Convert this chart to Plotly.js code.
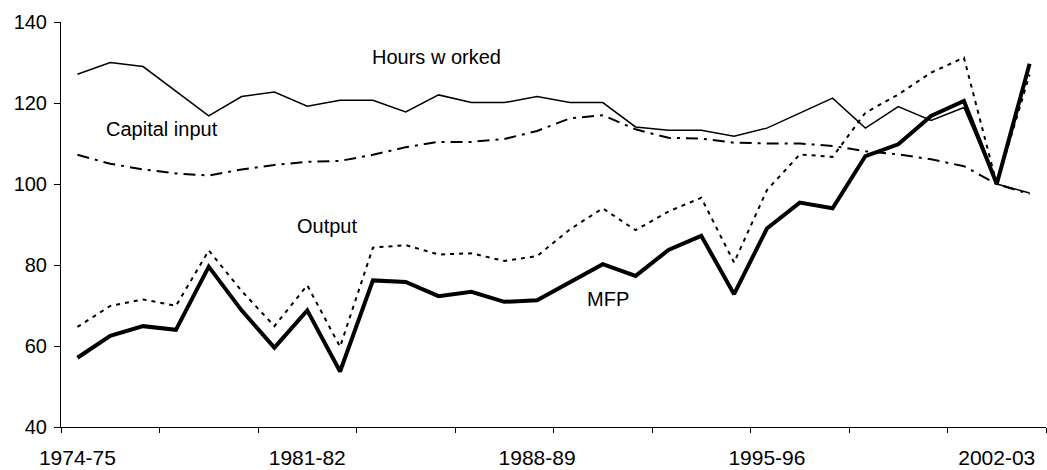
<!DOCTYPE html>
<html>
<head>
<meta charset="utf-8">
<script src="https://cdn.plot.ly/plotly-3.0.1.min.js"></script>
<style>html,body{margin:0;padding:0;background:#fff;}#chart{width:1047px;height:470px;}</style>
</head>
<body>
<div id="chart"></div>
<script>
const categories = ["1974-75","1975-76","1976-77","1977-78","1978-79","1979-80","1980-81","1981-82","1982-83","1983-84",
  "1984-85","1985-86","1986-87","1987-88","1988-89","1989-90","1990-91","1991-92","1992-93","1993-94",
  "1994-95","1995-96","1996-97","1997-98","1998-99","1999-00","2000-01","2001-02","2002-03","2003-04"];
const hoursWorked = [127.1,130.0,129.0,123.0,116.8,121.6,122.7,119.2,120.7,120.7,
  117.8,122.0,120.1,120.1,121.6,120.1,120.1,114.1,113.3,113.3,
  111.8,113.8,117.4,121.2,113.8,119.1,115.7,118.9,100.0,97.8];
const capitalInput = [107.2,105.0,103.6,102.6,102.1,103.6,104.7,105.5,105.7,107.2,
  109.1,110.4,110.4,111.1,113.1,116.2,117.0,113.5,111.4,111.2,
  110.2,110.0,110.0,109.4,108.1,107.3,106.1,104.4,100.0,97.5];
const output = [64.7,69.9,71.5,69.9,83.6,73.6,64.9,75.0,59.8,84.3,
  84.9,82.6,82.9,81.0,82.2,88.8,94.0,88.6,93.2,96.6,
  80.6,98.5,107.3,106.7,117.6,122.1,127.5,131.2,100.0,127.0];
const mfp = [57.1,62.5,64.9,64.0,79.6,68.8,59.6,68.8,53.7,76.2,
  75.8,72.3,73.4,70.9,71.3,75.8,80.2,77.3,83.7,87.2,
  72.8,89.0,95.4,94.0,106.9,109.8,116.8,120.5,100.0,129.7];
const tickLabels = ["1974-75","1981-82","1988-89","1995-96","2002-03"];

const xIdx = categories.map((c, i) => i);
const tickIdx = tickLabels.map(t => categories.indexOf(t));

const FONT = "Liberation Sans, Arial, sans-serif";

const traces = [
  {x: xIdx, y: hoursWorked, name: "Hours worked", mode: "lines", line: {color: "#000", width: 1.5}},
  {x: xIdx, y: capitalInput, name: "Capital input", mode: "lines", line: {color: "#000", width: 2, dash: "12px,6px,3px,6px"}},
  {x: xIdx, y: output, name: "Output", mode: "lines", line: {color: "#000", width: 2, dash: "4px,5px"}},
  {x: xIdx, y: mfp, name: "MFP", mode: "lines", line: {color: "#000", width: 4}}
];

const layout = {
  width: 1047, height: 470,
  margin: {l: 61, r: 1, t: 22, b: 43, pad: 0},
  paper_bgcolor: "#fff", plot_bgcolor: "#fff",
  showlegend: false,
  font: {family: FONT, color: "#000", size: 20},
  xaxis: {
    type: "linear", range: [-0.5, categories.length - 0.5],
    tickmode: "array", tickvals: tickIdx, ticktext: tickLabels,
    ticks: "", showgrid: false, zeroline: false,
    showline: true, linecolor: "#000", linewidth: 1,
    tickfont: {family: FONT, size: 21, color: "#000"},
    ticklabelstandoff: 12,
    minor: {tickmode: "linear", tick0: -0.5, dtick: 3, ticks: "outside", ticklen: 5, tickcolor: "#000", tickwidth: 1, showgrid: false}
  },
  yaxis: {
    range: [40, 140], tickmode: "linear", tick0: 40, dtick: 20,
    ticks: "outside", ticklen: 6, tickcolor: "#000", tickwidth: 1,
    showgrid: false, zeroline: false,
    showline: true, linecolor: "#000", linewidth: 1,
    tickfont: {family: FONT, size: 20, color: "#000"},
    ticklabelstandoff: 3
  },
  annotations: [
    {x: 10.95, y: 131.3, text: "Hours w orked", showarrow: false, xanchor: "center", yanchor: "middle", font: {family: FONT, size: 20, color: "#000"}},
    {x: 2.58, y: 113.6, text: "Capital input", showarrow: false, xanchor: "center", yanchor: "middle", font: {family: FONT, size: 20, color: "#000"}},
    {x: 7.6, y: 89.6, text: "Output", showarrow: false, xanchor: "center", yanchor: "middle", font: {family: FONT, size: 20, color: "#000"}},
    {x: 16.16, y: 71.5, text: "MFP", showarrow: false, xanchor: "center", yanchor: "middle", font: {family: FONT, size: 20, color: "#000"}}
  ]
};

Plotly.newPlot("chart", traces, layout, {staticPlot: true, displayModeBar: false});
</script>
</body>
</html>
